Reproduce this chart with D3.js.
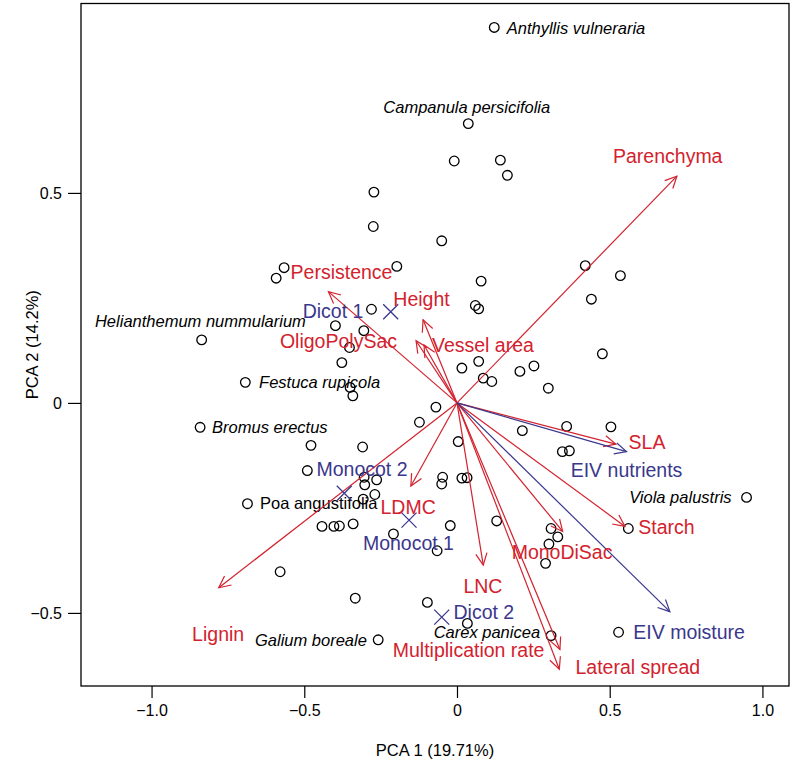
<!DOCTYPE html>
<html><head><meta charset="utf-8">
<script src="https://cdn.jsdelivr.net/npm/d3@7"></script>
<style>body{margin:0;background:#fff}svg{display:block}text{font-family:"Liberation Sans",Arial,Helvetica,sans-serif}</style>
</head><body><svg id="c" width="792" height="765"></svg>
<script>
// ---- data ----
const siteX = [0.122,0.037,-0.009,0.142,0.165,-0.272,-0.274,-0.050,0.420,0.535,0.440,-0.566,-0.592,-0.197,0.079,0.060,0.071,-0.280,-0.398,-0.305,-0.352,-0.377,0.476,0.016,0.071,0.206,0.252,0.086,-0.836,-0.693,-0.841,-0.350,-0.341,-0.069,-0.123,-0.478,-0.309,0.004,0.214,-0.490,-0.304,-0.263,-0.302,-0.047,-0.050,0.016,0.033,-0.307,-0.269,-0.686,-0.442,-0.403,-0.385,-0.340,-0.208,-0.022,-0.065,0.130,-0.579,-0.333,-0.097,0.034,-0.258,0.308,0.114,0.299,0.359,0.504,0.345,0.368,0.948,0.561,0.308,0.330,0.301,0.290,0.529];
const siteY = [0.894,0.665,0.576,0.578,0.542,0.502,0.420,0.386,0.327,0.303,0.247,0.322,0.297,0.325,0.290,0.232,0.224,0.223,0.184,0.172,0.132,0.096,0.117,0.083,0.099,0.075,0.088,0.059,0.150,0.049,-0.058,0.037,0.017,-0.010,-0.046,-0.101,-0.105,-0.092,-0.066,-0.161,-0.177,-0.183,-0.195,-0.177,-0.193,-0.179,-0.178,-0.229,-0.218,-0.240,-0.294,-0.294,-0.293,-0.288,-0.312,-0.292,-0.352,-0.281,-0.402,-0.465,-0.475,-0.525,-0.564,-0.554,0.051,0.035,-0.056,-0.057,-0.116,-0.114,-0.225,-0.299,-0.299,-0.319,-0.336,-0.382,-0.546];

const speciesNames  = ["Anthyllis vulneraria","Campanula persicifolia","Helianthemum nummularium","Festuca rupicola","Bromus erectus","Poa angustifolia","Galium boreale","Carex panicea","Viola palustris"];
const speciesLabX   = [0.163,0.032,-0.840,-0.648,-0.802,-0.645,-0.295,0.272,0.899];
const speciesLabY   = [0.893,0.705,0.194,0.050,-0.057,-0.239,-0.564,-0.545,-0.225];
const speciesAnchor = ["start","middle","middle","start","start","start","end","end","end"];
const speciesItalic = [true,true,true,true,true,false,true,true,true];

const traitNames = ["Persistence","Height","OligoPolySac","Vessel area","Parenchyma","SLA","Starch","MonoDiSac","LNC","Multiplication rate","Lateral spread","LDMC","Lignin"];
const traitX = [-0.421,-0.111,-0.134,-0.108,0.720,0.520,0.550,0.346,0.086,0.337,0.335,-0.151,-0.780];
const traitY = [0.265,0.198,0.148,0.138,0.540,-0.098,-0.294,-0.306,-0.386,-0.587,-0.634,-0.198,-0.440];
const traitLabX = [-0.378,-0.116,-0.388,0.085,0.690,0.622,0.686,0.344,0.085,0.038,0.592,-0.160,-0.782];
const traitLabY = [0.312,0.248,0.148,0.138,0.588,-0.094,-0.295,-0.356,-0.436,-0.589,-0.629,-0.249,-0.550];

const envNames = ["EIV nutrients","EIV moisture"];
const envX = [0.555,0.697];
const envY = [-0.116,-0.497];
const envLabX = [0.555,0.760];
const envLabY = [-0.161,-0.546];

const groupNames = ["Dicot 1","Monocot 2","Monocot 1","Dicot 2"];
const groupX = [-0.217,-0.369,-0.157,-0.050];
const groupY = [0.217,-0.215,-0.279,-0.510];
const groupLabX = [-0.406,-0.311,-0.159,0.088];
const groupLabY = [0.219,-0.158,-0.333,-0.498];

const xTicks = [-1.0,-0.5,0,0.5,1.0];
const yTicks = [-0.5,0,0.5];
const xTitle = "PCA 1 (19.71%)";
const yTitle = "PCA 2 (14.2%)";

// ---- drawing ----
const RED = "#d3222e", BLUE = "#3a378c";
const svg = d3.select("#c");
const L = 81, R = 789, T = 3.5, B = 686;
const x = d3.scaleLinear().domain([-1.231, 1.087]).range([L, R]);
const y = d3.scaleLinear().domain([-0.674, 0.951]).range([B, T]);

const fmt = d => d === 0 ? "0" : d3.format(".1f")(d).replace("-", "\u2212");
const xAxis = d3.axisBottom(x).tickValues(xTicks).tickSize(12).tickPadding(7).tickFormat(fmt);
const yAxis = d3.axisLeft(y).tickValues(yTicks).tickSize(13).tickPadding(6).tickFormat(fmt);
const gx = svg.append("g").attr("transform", `translate(0,${B})`).call(xAxis);
const gy = svg.append("g").attr("transform", `translate(${L},0)`).call(yAxis);
[gx, gy].forEach(g => {
  g.select(".domain").remove();
  g.selectAll("line").attr("stroke", "#000").attr("stroke-width", 1.2);
  g.selectAll("text").attr("font-size", 16).attr("fill", "#000").style("font-family", '"Liberation Sans",Arial,sans-serif');
});
svg.append("rect").attr("x", L).attr("y", T).attr("width", R - L).attr("height", B - T)
  .attr("fill", "none").attr("stroke", "#000").attr("stroke-width", 1.3);

svg.append("text").attr("x", (L + R) / 2).attr("y", 756).attr("text-anchor", "middle").attr("font-size", 16.5).text(xTitle);
svg.append("text").attr("transform", `translate(38,${(T + B) / 2}) rotate(-90)`).attr("text-anchor", "middle").attr("font-size", 16.5).text(yTitle);

const plot = svg.append("g");

function arrow(g, x2, y2, color) {
  const x0 = x(0), y0 = y(0), X = x(x2), Y = y(y2);
  g.append("line").attr("x1", x0).attr("y1", y0).attr("x2", X).attr("y2", Y)
    .attr("stroke", color).attr("stroke-width", 1.2);
  const ang = Math.atan2(Y - y0, X - x0), len = 13, a = Math.PI / 7;
  const p = d3.path();
  p.moveTo(X - len * Math.cos(ang - a), Y - len * Math.sin(ang - a));
  p.lineTo(X, Y);
  p.lineTo(X - len * Math.cos(ang + a), Y - len * Math.sin(ang + a));
  g.append("path").attr("d", p.toString()).attr("fill", "none").attr("stroke", color).attr("stroke-width", 1.2);
}

// site points
plot.selectAll("circle.site").data(siteX.map((v, i) => [v, siteY[i]])).join("circle")
  .attr("class", "site").attr("cx", d => x(d[0])).attr("cy", d => y(d[1])).attr("r", 4.8)
  .attr("fill", "none").attr("stroke", "#000").attr("stroke-width", 1.3);

// species labels
speciesNames.forEach((n, i) => {
  plot.append("text").attr("x", x(speciesLabX[i])).attr("y", y(speciesLabY[i]))
    .attr("dy", "0.35em").attr("text-anchor", speciesAnchor[i]).attr("font-size", 16.5)
    .attr("font-style", speciesItalic[i] ? "italic" : "normal").attr("fill", "#000").text(n);
});

// trait arrows
traitNames.forEach((n, i) => arrow(plot, traitX[i], traitY[i], RED));
envNames.forEach((n, i) => arrow(plot, envX[i], envY[i], BLUE));

// group centroids
groupNames.forEach((n, i) => {
  const cx = x(groupX[i]), cy = y(groupY[i]), s = 7.5;
  plot.append("path").attr("d", `M${cx - s},${cy - s}L${cx + s},${cy + s}M${cx - s},${cy + s}L${cx + s},${cy - s}`)
    .attr("stroke", BLUE).attr("stroke-width", 1.3);
});

const LF = 19.5;
traitNames.forEach((n, i) => {
  plot.append("text").attr("x", x(traitLabX[i])).attr("y", y(traitLabY[i])).attr("dy", "0.35em")
    .attr("text-anchor", "middle").attr("font-size", LF).attr("fill", RED).text(n);
});
envNames.forEach((n, i) => {
  plot.append("text").attr("x", x(envLabX[i])).attr("y", y(envLabY[i])).attr("dy", "0.35em")
    .attr("text-anchor", "middle").attr("font-size", LF).attr("fill", BLUE).text(n);
});
groupNames.forEach((n, i) => {
  plot.append("text").attr("x", x(groupLabX[i])).attr("y", y(groupLabY[i])).attr("dy", "0.35em")
    .attr("text-anchor", "middle").attr("font-size", LF).attr("fill", BLUE).text(n);
});
</script></body></html>
